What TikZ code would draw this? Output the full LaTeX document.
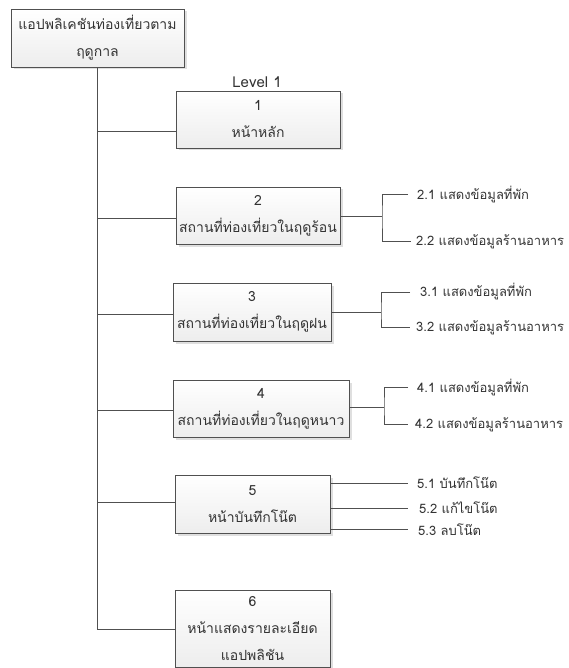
\documentclass[tikz,border=0pt]{standalone}
\usepackage{fontspec}
\newfontfamily\thai[Script=Thai]{Loma}
\usetikzlibrary{shadows}
\definecolor{ln}{HTML}{505050}
\definecolor{tx}{HTML}{333333}
\tikzset{
  box/.style={draw=ln, line width=0.9pt, top color=white, bottom color=gray!14,
    drop shadow={shadow xshift=2.5pt, shadow yshift=-2.5pt, fill=gray!25, opacity=1},
    align=center, inner sep=0pt, font=\thai\fontsize{14}{27}\selectfont, text=tx},
  lbl/.style={anchor=west, inner sep=0pt, font=\thai\fontsize{13}{16}\selectfont, text=tx},
  conn/.style={draw=ln, line width=0.9pt}
}
\begin{document}
\begin{tikzpicture}[x=1pt,y=-1pt]
\useasboundingbox (0,0) rectangle (568,668);
% boxes
\node[box, minimum width=173pt, minimum height=58pt] (root) at (97.5,38) {แอปพลิเคชันท่องเที่ยวตาม\\ฤดูกาล};
\node[box, minimum width=164pt, minimum height=57pt] (b1) at (258,119.5) {1\\หน้าหลัก};
\node[box, minimum width=164pt, minimum height=57pt] (b2) at (258,215.5) {2\\สถานที่ท่องเที่ยวในฤดูร้อน};
\node[box, minimum width=158pt, minimum height=58pt] (b3) at (252,312) {3\\สถานที่ท่องเที่ยวในฤดูฝน};
\node[box, minimum width=176pt, minimum height=57pt] (b4) at (261,408.5) {4\\สถานที่ท่องเที่ยวในฤดูหนาว};
\node[box, minimum width=155pt, minimum height=58pt] (b5) at (252.5,504) {5\\หน้าบันทึกโน๊ต};
\node[box, minimum width=155pt, minimum height=77pt] (b6) at (252.5,628.5) {6\\หน้าแสดงรายละเอียด\\แอปพลิชัน};
\node[lbl, anchor=center, font=\thai\fontsize{15}{16}\selectfont] (lev) at (257,82) {Level 1};
% labels
\node[lbl] (s21) at (417,195) {2.1 แสดงข้อมูลที่พัก};
\node[lbl] (s22) at (416,242) {2.2 แสดงข้อมูลร้านอาหาร};
\node[lbl] (s31) at (420,292) {3.1 แสดงข้อมูลที่พัก};
\node[lbl] (s32) at (416,328) {3.2 แสดงข้อมูลร้านอาหาร};
\node[lbl] (s41) at (417,388) {4.1 แสดงข้อมูลที่พัก};
\node[lbl] (s42) at (415,425) {4.2 แสดงข้อมูลร้านอาหาร};
\node[lbl] (s51) at (417,483) {5.1 บันทึกโน๊ต};
\node[lbl] (s52) at (419,508) {5.2 แก้ไขโน๊ต};
\node[lbl] (s53) at (418,530) {5.3 ลบโน๊ต};
% trunk
\coordinate (tend) at (97.5,629);
\coordinate (c1) at (97.5,131);
\draw[conn] (root.south) -- (tend) -- (b6.west |- tend);
\draw[conn] (c1) -- (b1.west |- c1);
\draw[conn] (root.south |- b2.west) ++(0,2.5) -- ([yshift=-2.5pt]b2.west);
\draw[conn] (root.south |- b3.west) ++(0,2) -- ([yshift=-2pt]b3.west);
\draw[conn] (root.south |- b4.west) ++(0,1.5) -- ([yshift=-1.5pt]b4.west);
\draw[conn] (root.south |- b5.west) ++(0,-2) -- ([yshift=2pt]b5.west);
% brackets
\coordinate (k2) at (382,216);
\coordinate (e21) at (408,194);
\coordinate (e22) at (411,241);
\draw[conn] (b2.east |- k2) -- (k2);
\draw[conn] (e21) -| (k2) |- (e22);
\coordinate (k3) at (381,312);
\coordinate (e31) at (410,292);
\coordinate (e32) at (410,327);
\draw[conn] (b3.east |- k3) -- (k3);
\draw[conn] (e31) -| (k3) |- (e32);
\coordinate (k4) at (384,407);
\coordinate (e41) at (408,387);
\coordinate (e42) at (408,424);
\draw[conn] (b4.east |- k4) -- (k4);
\draw[conn] (e41) -| (k4) |- (e42);
% box 5 lines
\coordinate (e51) at (408,483);
\coordinate (e52) at (408,508);
\coordinate (e53) at (408,529);
\draw[conn] (b5.east |- e51) -- (e51);
\draw[conn] (b5.east |- e52) -- (e52);
\draw[conn] (b5.east |- e53) -- (e53);
\end{tikzpicture}
\end{document}
